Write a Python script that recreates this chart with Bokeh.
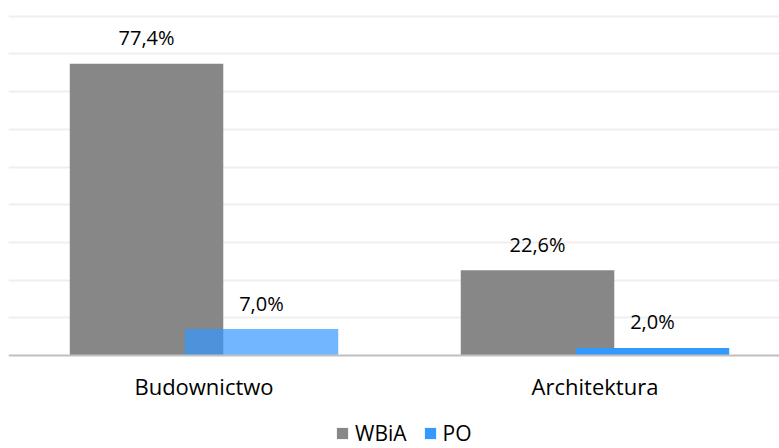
from bokeh.plotting import figure
from bokeh.models import ColumnDataSource, FixedTicker, Legend, LegendItem, Range1d, Span
from bokeh.core.properties import value
from bokeh.embed import file_html
from bokeh.resources import INLINE

# ---- data ----
categories = ["Budownictwo", "Architektura"]
series = ["WBiA", "PO"]
wbia = [77.4, 22.6]
po = [7.0, 2.0]
wbia_labels = ["77,4%", "22,6%"]
po_labels = ["7,0%", "2,0%"]
grid_ticks = [10, 20, 30, 40, 50, 60, 70, 80, 90]

# ---- style ----
FONT = "Open Sans"
GRAY = "#878787"
BLUE = "#3399ff"
po_alpha = [0.7, 1.0]
BAR_W = 0.3926
OFF = 0.147

W, H = 779, 448
LEFT = 8
PX_PER_CAT = 391.0
PX_PER_UNIT = 3.77
BASE_Y = 355  # pixel row of value 0

centers = [i + 0.5 for i in range(len(categories))]
src_w = ColumnDataSource(dict(x=[c - OFF for c in centers], top=wbia, lab=wbia_labels))
src_p = ColumnDataSource(dict(x=[c + OFF for c in centers], top=po, lab=po_labels, a=po_alpha))
src_c = ColumnDataSource(dict(x=centers, y=[0] * len(centers), lab=categories))

p = figure(width=W, height=H, output_backend="svg", toolbar_location=None,
           x_range=Range1d(0, (W - LEFT) / PX_PER_CAT),
           y_range=Range1d(-(H - BASE_Y) / PX_PER_UNIT, BASE_Y / PX_PER_UNIT),
           min_border_left=LEFT, min_border_right=0, min_border_top=0,
           min_border_bottom=0)
p.outline_line_color = None
p.background_fill_color = "white"
p.border_fill_color = "white"
p.xaxis.visible = False
p.yaxis.visible = False

# grid
p.xgrid.visible = False
p.ygrid.ticker = FixedTicker(ticks=grid_ticks)
p.ygrid.grid_line_color = "#efefef"
p.ygrid.grid_line_width = 2

rw = p.vbar(x="x", top="top", width=BAR_W, source=src_w, fill_color=GRAY, line_color=None)
rp = p.vbar(x="x", top="top", width=BAR_W, source=src_p, fill_color=BLUE,
            fill_alpha="a", line_color=None)

# baseline (category axis line)
p.add_layout(Span(location=0, dimension="width", line_color="#bfbfbf", line_width=2))

# data labels
for src in (src_w, src_p):
    p.text(x="x", y="top", text="lab", source=src, text_align="center",
           text_baseline="alphabetic", y_offset=-26, text_font=value(FONT),
           text_font_size="20px", text_color="#000000")

# category labels
p.text(x="x", y="y", text="lab", source=src_c, text_align="center",
       text_baseline="alphabetic", y_offset=30, text_font=value(FONT),
       text_font_size="22px", text_color="#000000")

legend = Legend(items=[LegendItem(label=series[0], renderers=[rw], index=0),
                       LegendItem(label=series[1], renderers=[rp], index=1)],
                location=(327, 1), orientation="horizontal",
                glyph_width=14, glyph_height=14, label_height=14,
                label_standoff=6, spacing=16, padding=0, margin=0,
                border_line_color=None, background_fill_alpha=0,
                label_text_font=FONT, label_text_font_size="21px",
                label_text_color="#000000")
p.add_layout(legend, "center")

open("out.html", "w").write(file_html(p, INLINE))
